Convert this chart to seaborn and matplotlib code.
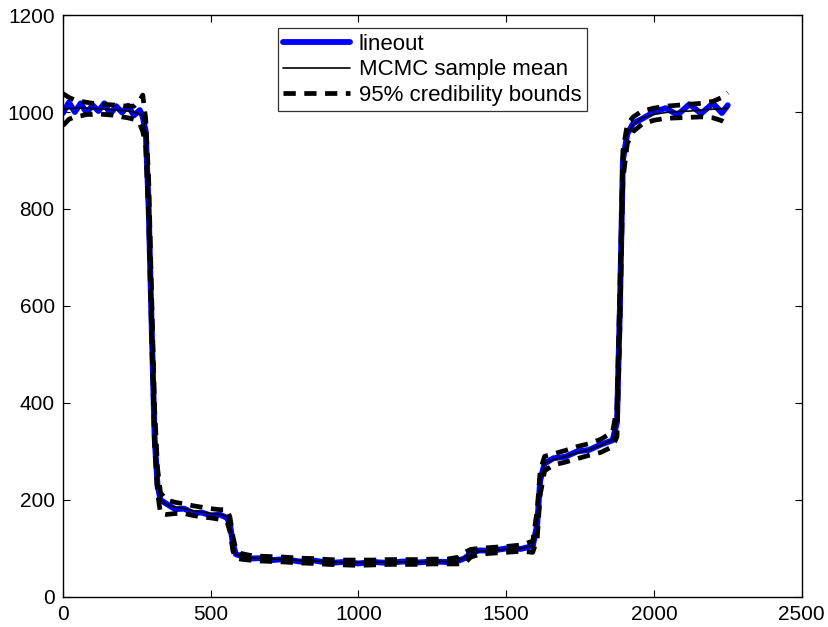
import numpy as np
import pandas as pd
import matplotlib
matplotlib.use("Agg")
import matplotlib.pyplot as plt
import seaborn as sns

# positions along the lineout (pixels)
pos = [0, 20, 40, 60, 80, 100, 120, 140, 160, 180,
       200, 220, 240, 260, 270, 280, 290, 300, 310, 320,
       330, 350, 380, 410, 440, 470, 500, 530, 555, 565,
       575, 585, 600, 630, 670, 710, 750, 800, 850, 900,
       950, 1000, 1050, 1100, 1150, 1200, 1250, 1300, 1340, 1360,
       1380, 1410, 1450, 1500, 1550, 1590, 1605, 1615, 1630, 1660,
       1700, 1740, 1780, 1820, 1860, 1875, 1885, 1895, 1910, 1930,
       1960, 2000, 2040, 2080, 2120, 2160, 2200, 2230, 2250]

lineout = [998, 1020, 1000, 1018, 998, 1014, 1002, 1018, 996, 1012,
           999, 1013, 993, 1004, 990, 960, 800, 560, 330, 230,
           200, 192, 181, 182, 173, 174, 168, 170, 163, 150,
           110, 88, 85, 79, 80, 76, 78, 73, 75, 70,
           72, 69, 72, 70, 73, 71, 73, 72, 75, 80,
           90, 96, 95, 100, 99, 105, 150, 240, 275, 286,
           289, 300, 303, 314, 323, 360, 600, 900, 955, 977,
           986, 1000, 1008, 994, 1016, 997, 1018, 998, 1014]

mcmc_mean = [1005, 1007, 1008, 1008, 1008, 1007, 1007, 1006, 1005, 1004,
             1003, 1002, 1000, 995, 990, 960, 820, 580, 350, 240,
             200, 190, 185, 182, 178, 175, 172, 170, 166, 150,
             110, 88, 84, 81, 79, 78, 77, 75, 74, 72,
             71, 71, 71, 72, 72, 72, 73, 73, 75, 82,
             90, 94, 96, 98, 100, 106, 150, 235, 275, 283,
             290, 297, 304, 312, 325, 360, 600, 890, 955, 975,
             988, 995, 999, 1001, 1002, 1004, 1006, 1007, 1008]

lower = [972, 985, 990, 992, 995, 995, 996, 995, 994, 993,
         990, 988, 985, 975, 960, 930, 780, 540, 310, 215,
         172, 170, 172, 172, 168, 165, 163, 160, 155, 135,
         95, 80, 78, 76, 74, 73, 72, 70, 69, 67,
         66, 65, 66, 67, 67, 67, 68, 68, 68, 70,
         82, 88, 90, 92, 94, 92, 120, 210, 260, 272,
         278, 285, 292, 298, 310, 330, 560, 860, 935, 960,
         975, 983, 987, 988, 989, 990, 988, 982, 975]

upper = [1038, 1030, 1025, 1022, 1020, 1018, 1017, 1016, 1015, 1014,
         1013, 1012, 1012, 1025, 1035, 985, 860, 620, 390, 265,
         215, 200, 195, 192, 188, 185, 182, 180, 180, 165,
         125, 98, 90, 86, 84, 83, 82, 80, 79, 77,
         76, 76, 76, 77, 77, 77, 78, 78, 82, 92,
         98, 100, 102, 104, 107, 115, 180, 260, 290, 295,
         302, 310, 316, 325, 340, 390, 640, 920, 975, 990,
         1002, 1008, 1012, 1014, 1016, 1018, 1022, 1030, 1040]

df = pd.DataFrame({"x": pos, "lineout": lineout, "mean": mcmc_mean,
                   "lower": lower, "upper": upper})

sns.set_style("ticks")
plt.rcParams["font.family"] = ["Liberation Sans", "DejaVu Sans"]
plt.rcParams["text.color"] = "black"
plt.rcParams["xtick.color"] = "black"
plt.rcParams["ytick.color"] = "black"

fig = plt.figure(figsize=(8.29, 6.27), dpi=100)
ax = fig.add_axes([0.076, 0.048, 0.891, 0.928])

sns.lineplot(data=df, x="x", y="lineout", ax=ax, color="#0000ff", lw=4.2,
             label="lineout")
sns.lineplot(data=df, x="x", y="mean", ax=ax, color="black", lw=1.2,
             label="MCMC sample mean")
sns.lineplot(data=df, x="x", y="lower", ax=ax, color="black", lw=3.4,
             linestyle=(0, (2.6, 1.8)), label="95% credibility bounds")
sns.lineplot(data=df, x="x", y="upper", ax=ax, color="black", lw=3.4,
             linestyle=(0, (2.6, 1.8)))

ax.set_xlim(0, 2500)
ax.set_ylim(0, 1200)
ax.set_xticks(range(0, 2501, 500))
ax.set_yticks(range(0, 1201, 200))
ax.set_xlabel("")
ax.set_ylabel("")
ax.tick_params(direction="in", length=5, width=0.8, top=True, right=True,
               labelsize=15, pad=6)
for s in ax.spines.values():
    s.set_linewidth(1.0)
    s.set_color("black")
    s.set_visible(True)

leg = ax.legend(loc="upper center", bbox_to_anchor=(0.5, 0.996), fontsize=16,
                frameon=True, fancybox=False, edgecolor="black",
                handlelength=3.0, borderpad=0.25, labelspacing=0.2,
                handletextpad=0.4)
leg.get_frame().set_linewidth(0.9)

# title sits mostly above the saved canvas, as in the original figure
fig.text(0.56, 1.0065, "Lineout at (x, y) = (1024, 1024)", color="red",
         fontsize=15, ha="center", va="baseline")

fig.savefig("out.png", dpi=100)
